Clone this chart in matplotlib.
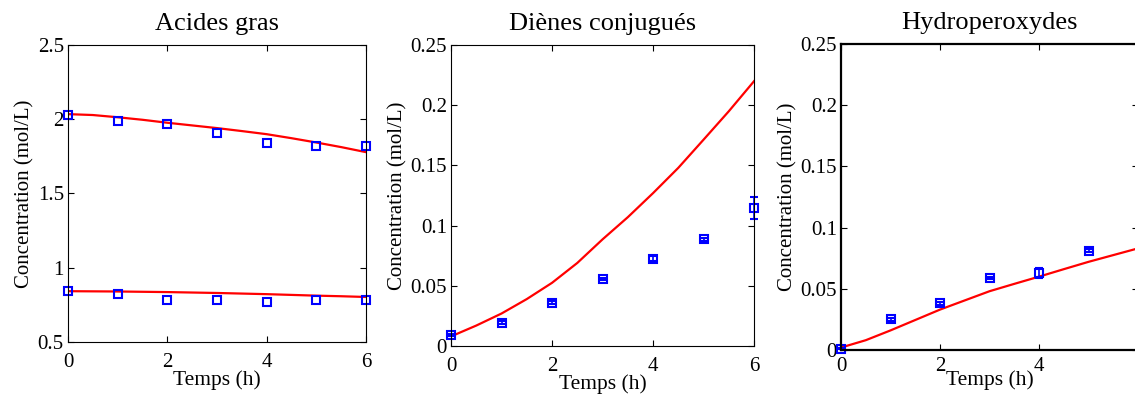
import matplotlib.pyplot as plt

plt.rcParams['font.family'] = ['Liberation Serif', 'DejaVu Serif']

# measured points (h)
t_pts = [0, 1, 2, 3, 4, 5, 6]
# Acides gras: two series
ag_high = [2.03, 1.99, 1.97, 1.91, 1.84, 1.82, 1.82]
ag_low = [0.84, 0.82, 0.78, 0.78, 0.77, 0.78, 0.78]
# model curves (read every 0.5 h)
t_mod = [0, 0.5, 1, 1.5, 2, 2.5, 3, 3.5, 4, 4.5, 5, 5.5, 6]
ag_high_mod = [2.034, 2.028, 2.013, 1.996, 1.976, 1.958, 1.940, 1.920, 1.899, 1.872, 1.843, 1.812, 1.778]
ag_low_mod = [0.842, 0.841, 0.840, 0.838, 0.836, 0.833, 0.830, 0.826, 0.822, 0.817, 0.812, 0.808, 0.803]

# Dienes conjugues
dc = [0.009, 0.0195, 0.036, 0.0555, 0.0725, 0.0885, 0.1145]
dc_err = [0.001, 0.001, 0.001, 0.001, 0.002, 0.001, 0.009]
dc_mod = [0.008, 0.017, 0.027, 0.039, 0.0525, 0.069, 0.0886, 0.107, 0.127, 0.148, 0.1714, 0.195, 0.22]

# Hydroperoxydes (no point visible at 6 h)
t_hp = [0, 1, 2, 3, 4, 5]
hp = [0.001, 0.025, 0.038, 0.0588, 0.0626, 0.0811]
hp_err = [0.0005, 0.001, 0.001, 0.001, 0.004, 0.001]
hp_mod = [0.002, 0.008, 0.016, 0.0245, 0.033, 0.0405, 0.048, 0.054, 0.0599, 0.066, 0.072, 0.0775, 0.083]

fig = plt.figure(figsize=(11.35, 3.94), dpi=100)
ax1 = fig.add_axes([0.0599, 0.132, 0.2626, 0.754])
ax2 = fig.add_axes([0.3974, 0.1218, 0.267, 0.764])
ax3 = fig.add_axes([0.741, 0.1117, 0.2617, 0.777])

mk = dict(marker='s', ms=6, mfc='none', mec='#0000ff', mew=1.5, color='#0000ff',
          ls='none', capsize=3, elinewidth=1.2)

ax1.plot(t_mod, ag_high_mod, color='red', lw=1.6)
ax1.plot(t_mod, ag_low_mod, color='red', lw=1.6)
ax1.plot(t_pts, ag_high, 's', ms=6, mfc='none', mec='#0000ff', mew=1.5, clip_on=False)
ax1.plot(t_pts, ag_low, 's', ms=6, mfc='none', mec='#0000ff', mew=1.5, clip_on=False)
ax1.set_ylim(0.5, 2.5)
ax1.set_yticks([0.5, 1, 1.5, 2, 2.5])
ax1.set_yticklabels(['0.5', '1', '1.5', '2', '2.5'])
ax1.set_title('Acides gras', fontsize=19, pad=11)

ax2.plot(t_mod, dc_mod, color='red', lw=1.6)
ax2.errorbar(t_pts, dc, yerr=dc_err, clip_on=False, **mk)
ax2.set_ylim(0, 0.25)
ax2.set_yticks([0, 0.05, 0.1, 0.15, 0.2, 0.25])
ax2.set_yticklabels(['0', '0.05', '0.1', '0.15', '0.2', '0.25'])
ax2.set_title('Diènes conjugués', fontsize=19, pad=11)

ax3.plot(t_mod, hp_mod, color='red', lw=1.6)
ax3.errorbar(t_hp, hp, yerr=hp_err, clip_on=False, **mk)
ax3.set_ylim(0, 0.25)
ax3.set_yticks([0, 0.05, 0.1, 0.15, 0.2, 0.25])
ax3.set_yticklabels(['0', '0.05', '0.1', '0.15', '0.2', '0.25'])
ax3.set_title('Hydroperoxydes', fontsize=19, pad=11)
for s in ax3.spines.values():
    s.set_linewidth(1.6)

for ax in (ax1, ax2, ax3):
    ax.set_xlim(0, 6)
    ax.set_xticks([0, 2, 4, 6])
    ax.tick_params(direction='in', top=True, right=True, labelsize=15, length=4, pad=3)
    ax.tick_params(axis='x', pad=8)
    ax.set_xlabel('Temps (h)', fontsize=15.5, labelpad=-1)
    ax.set_ylabel('Concentration (mol/L)', fontsize=15, labelpad=2)

# the right edge of the last panel falls outside the picture
ax3.set_xticklabels(['0', '2', '4', ''])
ax3.tick_params(axis='x', pad=5)
ax3.set_xlabel('Temps (h)', fontsize=15.5, labelpad=-4)

fig.savefig('out.png', dpi=100)
